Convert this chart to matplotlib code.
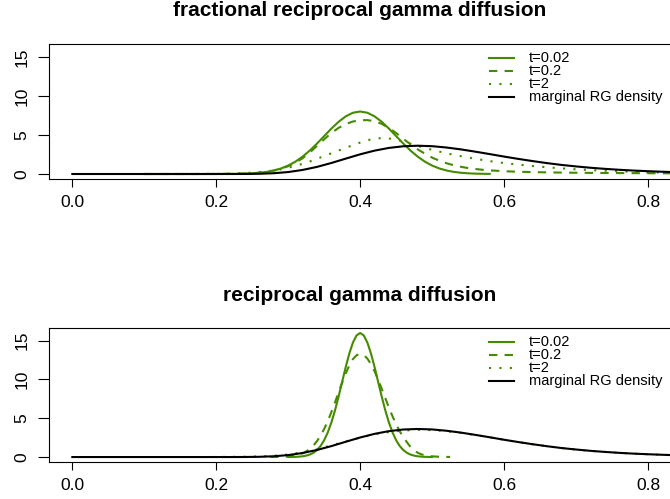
import numpy as np
import matplotlib
matplotlib.use("Agg")
import matplotlib.pyplot as plt
from matplotlib.lines import Line2D

plt.rcParams['font.family'] = ['Liberation Sans', 'DejaVu Sans']

nan = np.nan
green = '#458B00'

# common x grid (step 0.02)
x_grid = [0.00, 0.02, 0.04, 0.06, 0.08, 0.10, 0.12, 0.14, 0.16, 0.18,
          0.20, 0.22, 0.24, 0.26, 0.28, 0.30, 0.32, 0.34, 0.36, 0.38,
          0.40, 0.42, 0.44, 0.46, 0.48, 0.50, 0.52, 0.54, 0.56, 0.58,
          0.60, 0.62, 0.64, 0.66, 0.68, 0.70, 0.72, 0.74, 0.76, 0.78,
          0.80, 0.82, 0.84]

# x grid for the green curves of the upper panel (step 0.01)
x_top = [0.10, 0.11, 0.12, 0.13, 0.14, 0.15, 0.16, 0.17, 0.18, 0.19,
         0.20, 0.21, 0.22, 0.23, 0.24, 0.25, 0.26, 0.27, 0.28, 0.29,
         0.30, 0.31, 0.32, 0.33, 0.34, 0.35, 0.36, 0.37, 0.38, 0.39,
         0.40, 0.41, 0.42, 0.43, 0.44, 0.45, 0.46, 0.47, 0.48, 0.49,
         0.50, 0.51, 0.52, 0.53, 0.54, 0.55, 0.56, 0.57, 0.58, 0.59,
         0.60, 0.61, 0.62, 0.63, 0.64, 0.65, 0.66, 0.67, 0.68, 0.69,
         0.70, 0.71, 0.72, 0.73, 0.74, 0.75, 0.76, 0.77, 0.78, 0.79,
         0.80, 0.81, 0.82, 0.83, 0.84]

# fine x grid for the narrow curves of the lower panel (step 0.005)
x_fine = [0.275, 0.280, 0.285, 0.290, 0.295, 0.300, 0.305, 0.310, 0.315, 0.320,
          0.325, 0.330, 0.335, 0.340, 0.345, 0.350, 0.355, 0.360, 0.365, 0.370,
          0.375, 0.380, 0.385, 0.390, 0.395, 0.400, 0.405, 0.410, 0.415, 0.420,
          0.425, 0.430, 0.435, 0.440, 0.445, 0.450, 0.455, 0.460, 0.465, 0.470,
          0.475, 0.480, 0.485, 0.490, 0.495, 0.500, 0.505, 0.510, 0.515, 0.520,
          0.525]

# marginal RG density (same in both panels), on x_grid
rg_density = [0, 0, 0, 0, 0, 0, 0, 0, 0, 0,
              0, 0.001, 0.006, 0.03, 0.10, 0.25, 0.52, 0.91, 1.41, 1.97,
              2.52, 2.99, 3.34, 3.55, 3.62, 3.56, 3.39, 3.15, 2.86, 2.55,
              2.23, 1.93, 1.65, 1.39, 1.16, 0.97, 0.80, 0.66, 0.54, 0.44,
              0.36, 0.29, 0.23]

# fractional reciprocal gamma diffusion (upper panel), on x_top
frac_t002 = [0, 0, 0, 0, 0, 0, 0, 0, 0, 0.001,
             0.003, 0.006, 0.012, 0.025, 0.048, 0.089, 0.16, 0.27, 0.45, 0.71,
             1.08, 1.58, 2.22, 3.00, 3.89, 4.85, 5.81, 6.68, 7.38, 7.84,
             8.0, 7.84, 7.38, 6.68, 5.81, 4.85, 3.89, 3.00, 2.22, 1.58,
             1.08, 0.71, 0.45, 0.27, 0.16, 0.089, 0.048, 0.025, 0.012, nan,
             nan, nan, nan, nan, nan, nan, nan, nan, nan, nan,
             nan, nan, nan, nan, nan, nan, nan, nan, nan, nan,
             nan, nan, nan, nan, nan]
frac_t02 = [0, 0, 0, 0, 0, 0, 0, 0, 0.005, 0.007,
            0.01, 0.015, 0.02, 0.035, 0.06, 0.1, 0.16, 0.27, 0.43, 0.68,
            1.0, 1.45, 2.02, 2.75, 3.6, 4.45, 5.25, 5.9, 6.4, 6.72,
            6.88, 6.9, 6.75, 6.42, 5.9, 5.25, 4.5, 3.8, 3.15, 2.6,
            2.1, 1.7, 1.38, 1.12, 0.92, 0.76, 0.64, 0.54, 0.47, 0.41,
            0.36, 0.32, 0.29, 0.265, 0.245, 0.225, 0.21, 0.195, 0.18, 0.17,
            0.16, 0.15, 0.14, 0.135, 0.13, 0.125, 0.12, 0.115, 0.11, 0.105,
            0.10, 0.095, 0.09, 0.085, 0.08]
frac_t2 = [0, 0, 0, 0, 0, 0, 0.003, 0.005, 0.01, 0.015,
           0.02, 0.03, 0.05, 0.08, 0.12, 0.18, 0.25, 0.34, 0.45, 0.6,
           0.8, 1.03, 1.3, 1.6, 1.95, 2.3, 2.65, 3.0, 3.35, 3.7,
           4.02, 4.32, 4.52, 4.6, 4.55, 4.4, 4.15, 3.88, 3.6, 3.34,
           3.1, 2.87, 2.65, 2.46, 2.28, 2.11, 1.95, 1.8, 1.65, 1.52,
           1.4, 1.3, 1.2, 1.11, 1.02, 0.94, 0.86, 0.79, 0.72, 0.66,
           0.6, 0.55, 0.5, 0.46, 0.42, 0.38, 0.35, 0.32, 0.29, 0.265,
           0.24, 0.215, 0.19, 0.175, 0.16]

# reciprocal gamma diffusion (lower panel)
rg_t002 = [nan, nan, nan, nan, nan, 0.005, 0.012, 0.025, 0.05, 0.096,
           0.18, 0.32, 0.54, 0.90, 1.42, 2.17, 3.17, 4.45, 6.00, 7.79,
           9.70, 11.62, 13.37, 14.77, 15.68, 16.0, 15.68, 14.77, 13.37, 11.62,
           9.70, 7.79, 6.00, 4.45, 3.17, 2.17, 1.42, 0.90, 0.54, 0.32,
           0.18, 0.096, 0.05, 0.025, 0.012, 0.005, nan, nan, nan, nan,
           nan]
rg_t02 = [0.005, 0.008, 0.015, 0.025, 0.04, 0.07, 0.12, 0.20, 0.31, 0.48,
          0.71, 1.04, 1.48, 2.05, 2.76, 3.62, 4.64, 5.79, 7.03, 8.33,
          9.61, 10.80, 11.83, 12.63, 13.13, 13.3, 13.15, 12.70, 11.99, 11.07,
          9.98, 8.80, 7.58, 6.38, 5.25, 4.22, 3.32, 2.55, 1.91, 1.3,
          0.85, 0.55, 0.35, 0.22, 0.14, 0.09, 0.06, 0.04, 0.025, 0.015,
          0.01]
rg_t2 = [nan, nan, nan, nan, nan, nan, nan, nan, nan, 0.0,
         0.01, 0.02, 0.04, 0.08, 0.17, 0.33, 0.62, 1.0, 1.5, 2.02,
         2.5, 2.92, 3.22, 3.42, 3.5, 3.47, 3.33, 3.11, 2.84, 2.54,
         2.22, 1.92, 1.64, 1.39, 1.16, 0.96, 0.80, 0.66, 0.54, 0.44,
         0.36, 0.29, 0.23]

labels = ['t=0.02', 't=0.2', 't=2', 'marginal RG density']
x_ticks = [0.0, 0.2, 0.4, 0.6, 0.8]
x_ticklabels = ['0.0', '0.2', '0.4', '0.6', '0.8']
y_ticks = [0, 5, 10, 15]

W, H = 670, 499
fig = plt.figure(figsize=(W / 100, H / 100), dpi=100)

styles = [dict(color=green, lw=1.5),
          dict(color=green, lw=1.5, linestyle=(0, (4, 3.5))),
          dict(color=green, lw=1.5, linestyle=(0, (1, 4))),
          dict(color='black', lw=1.5)]


def panel(top_px, bottom_px, title, title_base_px, curves):
    ax = fig.add_axes([49.3 / W, 1 - bottom_px / H, 621.7 / W, (bottom_px - top_px) / H])
    for (xs, ys), st in zip(curves, styles):
        ax.plot(xs, ys, **st)
    ax.set_xlim(-0.032, 0.832)
    ax.set_ylim(-0.64, 16.64)
    ax.set_xticks(x_ticks)
    ax.set_xticklabels(x_ticklabels)
    ax.set_yticks(y_ticks)
    ax.tick_params(axis='x', length=5.8, width=0.8, pad=6.0, labelsize=12.5)
    ax.tick_params(axis='y', length=7.9, width=0.8, pad=6.5, labelsize=12.5,
                   labelrotation=90)
    for lab in ax.get_yticklabels():
        lab.set_va('center')
    for s in ax.spines.values():
        s.set_linewidth(0.8)

    # legend without box, rows 12.8 px apart
    for i, (lab, st) in enumerate(zip(labels, styles)):
        yc = 1 - (top_px + 14.3 + 12.8 * i) / H
        fig.add_artist(Line2D([489 / W, 514 / W], [yc, yc], **st))
        fig.text(529 / W, yc, lab, ha='left', va='center', fontsize=10.5)

    # title centred over the plot region (as R does)
    fig.text(360 / W, 1 - title_base_px / H, title, ha='center', va='baseline',
             fontsize=15, fontweight='bold')
    return ax


panel(44, 179, 'fractional reciprocal gamma diffusion', 16.5,
      [(x_top, frac_t002), (x_top, frac_t02), (x_top, frac_t2), (x_grid, rg_density)])
panel(328, 462, 'reciprocal gamma diffusion', 301,
      [(x_fine, rg_t002), (x_fine, rg_t02), (x_grid, rg_t2), (x_grid, rg_density)])

fig.savefig('out.png', dpi=100)
